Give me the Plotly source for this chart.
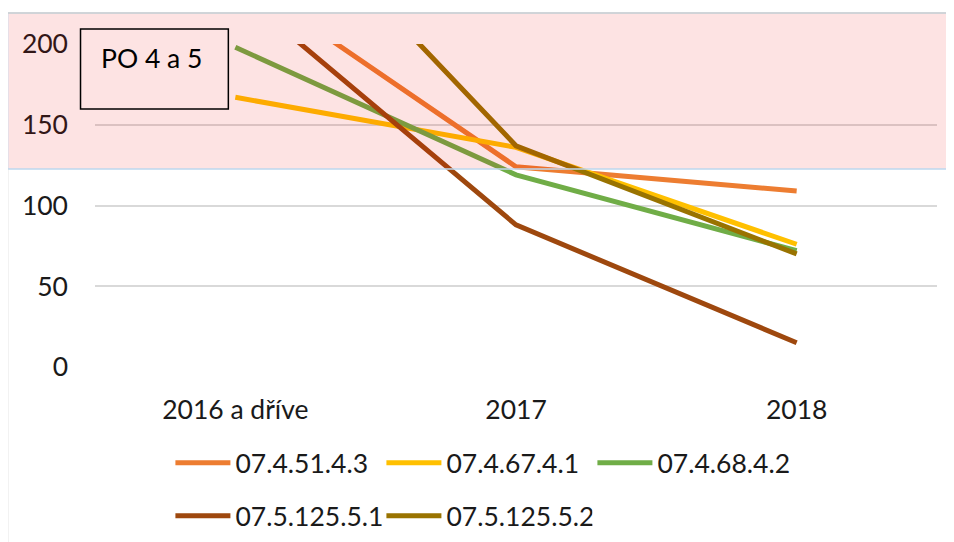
import plotly.graph_objects as go

categories = ["2016 a dříve", "2017", "2018"]
series_names = ["07.4.51.4.3", "07.4.67.4.1", "07.4.68.4.2", "07.5.125.5.1", "07.5.125.5.2"]
s1 = [243, 124, 109]
s2 = [167, 136, 76]
s3 = [198, 119, 72]
s4 = [234, 88, 15]
s5 = [320, 137, 70]
colors = ["#ED7D31", "#FFC000", "#70AD47", "#9E480E", "#997300"]
y_ticks = [0, 50, 100, 150, 200]
box_label = "PO 4 a 5"

FONT = "Lato"
FS = 26.5
fig = go.Figure()
for i, (name, vals) in enumerate(zip(series_names, [s1, s2, s3, s4, s5])):
    fig.add_trace(go.Scatter(
        x=categories, y=vals, name=name, mode="lines",
        line=dict(color=colors[i], width=5),
        legend="legend" if i < 3 else "legend2",
    ))

# page renders the figure offset by the default body margin
OFF = 8
W, H = 954, 542
# target plot area in screen pixels: x 94.5..937.5, y 44..367
L = 94.5 - OFF
T = 44 - OFF
R = W - (937.5 - OFF)
B = H - (367 - OFF)
pw, ph = W - L - R, H - T - B

def px(x):
    return (x - OFF - L) / pw

def py(y):
    return (H - B - (y - OFF)) / ph

shapes = [
    # pink band
    dict(type="rect", xref="paper", yref="paper", x0=px(7), x1=px(1000), y0=py(169), y1=py(13),
         fillcolor="rgba(240,0,0,0.11)", line=dict(color="#BDD7EE", width=1.5), layer="above"),
    # chart border
    dict(type="line", xref="paper", yref="paper", x0=px(7), x1=px(1000), y0=py(13), y1=py(13),
         line=dict(color="#D0D0D0", width=1.5), layer="above"),
    dict(type="line", xref="paper", yref="paper", x0=px(7), x1=px(7), y0=py(169), y1=py(600),
         line=dict(color="#D9D9D9", width=1.5), layer="above"),
    # text box
    dict(type="rect", xref="paper", yref="paper", x0=px(80), x1=px(228), y0=py(109), y1=py(29),
         line=dict(color="black", width=1.5), fillcolor="rgba(0,0,0,0)", layer="above"),
]

leg_common = dict(orientation="h", xanchor="left", yanchor="middle",
                  entrywidth=141, entrywidthmode="pixels", itemwidth=55,
                  font=dict(size=FS), bgcolor="rgba(0,0,0,0)")

fig.update_layout(
    width=W, height=H,
    margin=dict(l=L, r=R, t=T, b=B, pad=0, autoexpand=False),
    paper_bgcolor="white", plot_bgcolor="white",
    font=dict(family=FONT, size=FS, color="#1a1a1a"),
    showlegend=True,
    shapes=shapes,
    annotations=[dict(text=box_label, xref="paper", yref="paper", x=px(99), y=py(58),
                      xanchor="left", yanchor="middle", showarrow=False,
                      font=dict(family=FONT, size=FS, color="black"))],
    xaxis=dict(type="category", range=[-0.5, 2.5], showgrid=False, showline=False,
               ticks="", ticklabelstandoff=24, tickfont=dict(size=FS)),
    yaxis=dict(range=[0, 200], tickvals=y_ticks, showgrid=True, gridcolor="#D9D9D9", gridwidth=2,
               zeroline=False, showline=False, ticks="", ticklabelstandoff=26, tickfont=dict(size=FS)),
    legend=dict(x=px(170), y=py(463), **leg_common),
    legend2=dict(x=px(170), y=py(516), **leg_common),
)

fig.write_html("out.html")
